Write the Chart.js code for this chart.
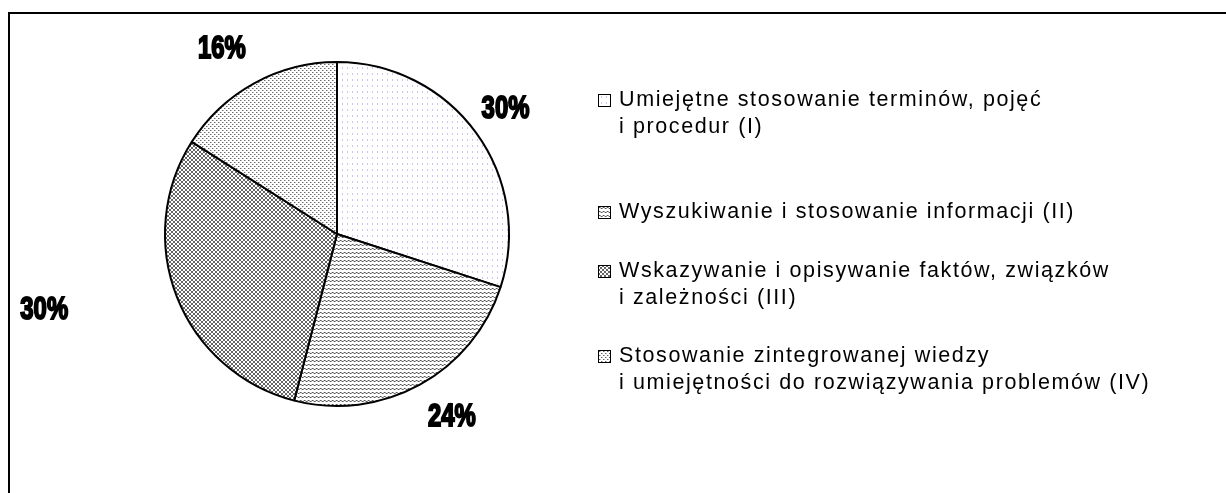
<!DOCTYPE html>
<html>
<head>
<meta charset="utf-8">
<script src="https://cdn.jsdelivr.net/npm/chart.js@4.4.0/dist/chart.umd.min.js"></script>
<style>
  html, body { margin: 0; padding: 0; background: #fff; }
  body { width: 1226px; height: 493px; position: relative; overflow: hidden; }
  #frame { position: absolute; left: 8px; top: 12px; width: 1300px; height: 600px; border: 2px solid #000; }
  #chartBox { position: absolute; left: 0; top: 0; }
  #legend { position: absolute; left: 0; top: 0; font-family: "Liberation Sans", Arial, sans-serif; font-size: 21.5px; letter-spacing: 1.6px; color: #000; }
  .item { position: absolute; left: 598px; white-space: nowrap; line-height: 27px; }
  .item canvas { position: absolute; left: 0; top: 8px; border: 1px solid #000; }
  .item div { margin-left: 21px; }
</style>
</head>
<body>
<div id="frame"></div>
<div id="chartBox"><canvas id="pie" width="674" height="468"></canvas></div>
<div id="legend"></div>
<script>
// data
const categories = [
    ['Umiejętne stosowanie terminów, pojęć', 'i procedur (I)'],
    ['Wyszukiwanie i stosowanie informacji (II)'],
    ['Wskazywanie i opisywanie faktów, związków', 'i zależności (III)'],
    ['Stosowanie zintegrowanej wiedzy', 'i umiejętności do rozwiązywania problemów (IV)']
];
const shares = [30, 24, 30, 16];
const fills = ['lightdots', 'hbands', 'cross', 'dots'];

// legend rows (layout only)
const legendTops = [86, 198, 257, 342];

// small bitmap tiles for the pattern fills
function makeTile(kind) {
    const c = document.createElement('canvas');
    const g = c.getContext('2d');
    function px(x, y, col) { g.fillStyle = col; g.fillRect(x, y, 1, 1); }
    if (kind === 'lightdots') {
        c.width = 5; c.height = 6;
        g.fillStyle = '#fff'; g.fillRect(0, 0, 5, 6);
        px(2, 1, '#c9c9ee'); px(2, 2, '#c9c9ee');
    } else if (kind === 'hbands') {
        c.width = 4; c.height = 4;
        g.fillStyle = '#fff'; g.fillRect(0, 0, 4, 4);
        px(0, 0, '#555'); px(1, 0, '#999');
        px(2, 1, '#555'); px(3, 1, '#999');
        px(1, 1, '#ccc'); px(3, 0, '#ccc');
    } else if (kind === 'cross') {
        c.width = 4; c.height = 4;
        g.fillStyle = '#fff'; g.fillRect(0, 0, 4, 4);
        [[0, 0], [1, 1], [2, 2], [3, 3], [3, 0], [2, 1], [1, 2], [0, 3]].forEach(p => px(p[0], p[1], '#666'));
    } else {
        c.width = 4; c.height = 4;
        g.fillStyle = '#fff'; g.fillRect(0, 0, 4, 4);
        px(0, 0, '#666'); px(2, 2, '#666'); px(1, 0, '#bbb'); px(3, 2, '#bbb');
    }
    return c;
}

const ctx = document.getElementById('pie').getContext('2d');
const patterns = fills.map(k => ctx.createPattern(makeTile(k), 'repeat'));

// percentage labels placed around each arc (narrow heavy type)
const pctLabels = {
    id: 'pctLabels',
    afterDatasetsDraw(chart, args, opts) {
        const c = chart.ctx;
        const meta = chart.getDatasetMeta(0);
        meta.data.forEach((arc, i) => {
            const p = arc.getProps(['x', 'y', 'startAngle', 'endAngle'], true);
            const a = (p.startAngle + p.endAngle) / 2 + opts.angleShift[i] * Math.PI / 180;
            const x = p.x + Math.cos(a) * opts.distance[i];
            const y = p.y + Math.sin(a) * opts.distance[i];
            const t = shares[i] + '%';
            c.save();
            c.translate(x, y);
            c.scale(0.77, 1);
            c.font = 'bold 31px "Liberation Sans", Arial, sans-serif';
            c.textAlign = 'center';
            c.textBaseline = 'middle';
            c.fillStyle = '#000';
            c.strokeStyle = '#000';
            c.lineWidth = 2;
            c.fillText(t, 0, 2);
            c.strokeText(t, 0, 2);
            c.restore();
        });
    }
};

new Chart(ctx, {
    type: 'pie',
    data: {
        labels: categories.map(l => l.join(' ')),
        datasets: [{
            data: shares,
            backgroundColor: patterns,
            borderColor: '#000',
            borderWidth: 2
        }]
    },
    options: {
        responsive: false,
        animation: false,
        layout: { padding: { left: 164, right: 164, top: 60, bottom: 60 } },
        plugins: {
            legend: { display: false },
            tooltip: { enabled: false },
            pctLabels: {
                distance: [211, 215, 302, 219],
                angleShift: [-1, -3.5, 7.4, -2.9]
            }
        }
    },
    plugins: [pctLabels]
});

// html legend with the same fills
const legend = document.getElementById('legend');
categories.forEach((lines, i) => {
    const item = document.createElement('div');
    item.className = 'item';
    item.style.top = legendTops[i] + 'px';
    const sw = document.createElement('canvas');
    sw.width = 11; sw.height = 11;
    const g = sw.getContext('2d');
    g.fillStyle = g.createPattern(makeTile(fills[i]), 'repeat');
    g.fillRect(0, 0, 11, 11);
    item.appendChild(sw);
    const txt = document.createElement('div');
    lines.forEach((l, j) => {
        if (j) txt.appendChild(document.createElement('br'));
        txt.appendChild(document.createTextNode(l));
    });
    item.appendChild(txt);
    legend.appendChild(item);
});
</script>
</body>
</html>
